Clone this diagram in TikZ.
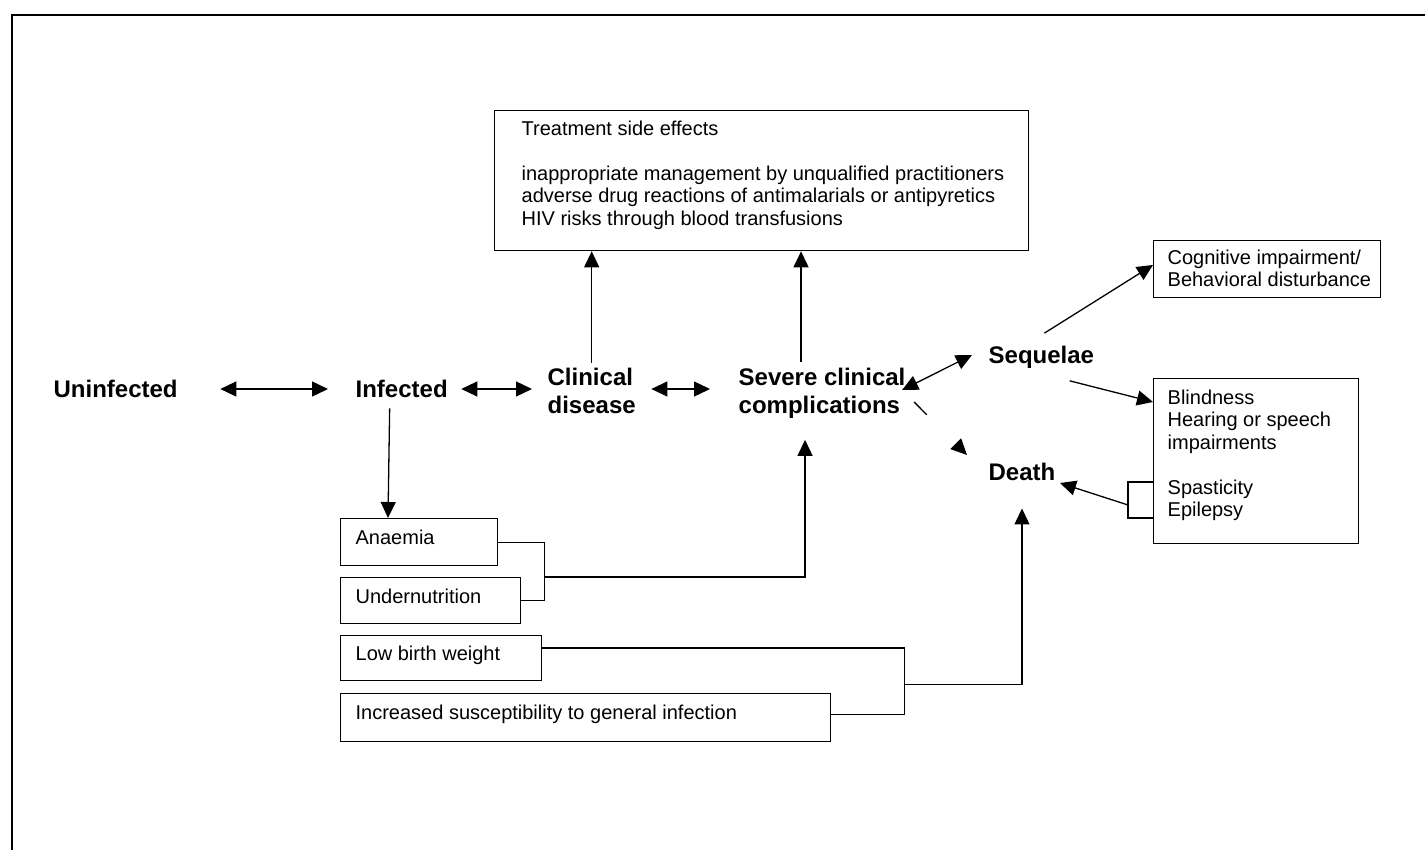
\documentclass[tikz,border=0pt]{standalone}
\usepackage{fontspec}
\setmainfont{Liberation Sans}
\usetikzlibrary{arrows.meta}
\newcommand{\bigf}{\bfseries\fontsize{24}{28}\selectfont}
\newcommand{\smf} {\fontsize{20}{22.5}\selectfont}

\begin{document}
\begin{tikzpicture}[x=1pt,y=-1pt,line width=1.3pt,
   stage/.style={font=\bigf,inner sep=0pt,align=left,anchor=west},
   box/.style={draw,rectangle,inner sep=0pt,anchor=north west},
   lbl/.style={font=\smf,inner sep=0pt,align=left,anchor=north west},
   link/.style={-{Triangle[length=16pt,width=15pt]}},
   both/.style={{Triangle[length=16pt,width=15pt]}-{Triangle[length=16pt,width=15pt]}}]
   \useasboundingbox (0,0) rectangle (1425,850);
   \draw[line width=1.6pt] (12,850) -- (12,15) -- (1425,15);
   % stages
   \node[stage] (unin)  at ( 53,389) {Uninfected};
   \node[stage] (inf)   at (355,389) {Infected};
   \node[stage] (clin)  at (547,391) {Clinical\\disease};
   \node[stage] (sev)   at (738,393) {Severe clinical\\complications};
   \node[stage] (seq)   at (988,357) {Sequelae};
   \node[stage] (death) at (988,472) {Death};
   % boxes
   \node[box,minimum width=534,minimum height=140,
      label={[lbl,shift={(27,10)}]north west:Treatment side effects\\\mbox{}\\inappropriate management by unqualified practitioners\\adverse drug reactions of antimalarials or antipyretics\\HIV risks through blood transfusions}]
      (treat) at (494,110) {};
   \node[box,minimum width=227,minimum height=57,
      label={[lbl,shift={(14,9)}]north west:Cognitive impairment/\\Behavioral disturbance}]
      (cog) at (1153,240) {};
   \node[box,minimum width=205,minimum height=165,
      label={[lbl,shift={(14,11)}]north west:Blindness\\Hearing or speech\\impairments\\\mbox{}\\Spasticity\\Epilepsy}]
      (blind) at (1153,378) {};
   \node[box,minimum width=157,minimum height=47,
      label={[lbl,shift={(15,11)}]north west:Anaemia}] (anae) at (340,518) {};
   \node[box,minimum width=180,minimum height=46,
      label={[lbl,shift={(15,11)}]north west:Undernutrition}] (under) at (340,577) {};
   \node[box,minimum width=201,minimum height=45,
      label={[lbl,shift={(15,10)}]north west:Low birth weight}] (lbw) at (340,635) {};
   \node[box,minimum width=490,minimum height=48,
      label={[lbl,shift={(15,11)}]north west:Increased susceptibility to general infection}] (incr) at (340,693) {};
   % arrows between stages
   \draw[both] ([xshift=42pt]unin.east) -- ([xshift=-27pt]inf.west);
   \draw[both] ([xshift=13pt]inf.east)  -- ([xshift=-15pt]clin.west |- inf.east);
   \draw[both] ([xshift=15pt]clin.east |- inf.east) -- ([xshift=-28pt]sev.west |- inf.east);
   \draw[both] ([shift={(-4,-3)}]sev.east) -- ([shift={(-16,-2)}]seq.west);
   \draw[link,dash pattern=on 18pt off 80pt] ([shift={(8,9)}]sev.east) -- ([shift={(-21,-17)}]death.west);
   \draw[link] ([yshift=5pt]clin.north) -- (clin.north |- treat.south);
   \draw[link] ([shift={(-21,-5)}]sev.north) -- ([xshift=-21pt]sev.north |- treat.south);
   \draw[link] ([shift={(3,-12)}]seq.north) -- ([shift={(0,25)}]cog.north west);
   \draw[link] ([shift={(-25,12)}]seq.south east) -- ([shift={(0,24)}]blind.north west);
   % sequelae bracket to death
   \draw ([shift={(0,104)}]blind.north west) -| ([shift={(-25,140)}]blind.north west) -- ([shift={(0,140)}]blind.north west);
   \draw[link] ([shift={(-25,127)}]blind.north west) -- ([shift={(4,11)}]death.east);
   % complications
   \draw[link] ([shift={(-12,10)}]inf.south) -- ([xshift=48pt]anae.north west);
   \draw (anae.east) -| ([xshift=23pt]under.east) -- (under.east);
   \draw[link] ([xshift=23pt]under.north east) -| ([shift={(-17,21)}]sev.south);
   \draw ([shift={(0,13)}]lbw.north east) -| ([shift={(73,-3)}]incr.east) -- ([shift={(0,-3)}]incr.east);
   \draw[link] ([shift={(73,-33)}]incr.east) -| ([shift={(0,27)}]death.south);
\end{tikzpicture}
\end{document}
